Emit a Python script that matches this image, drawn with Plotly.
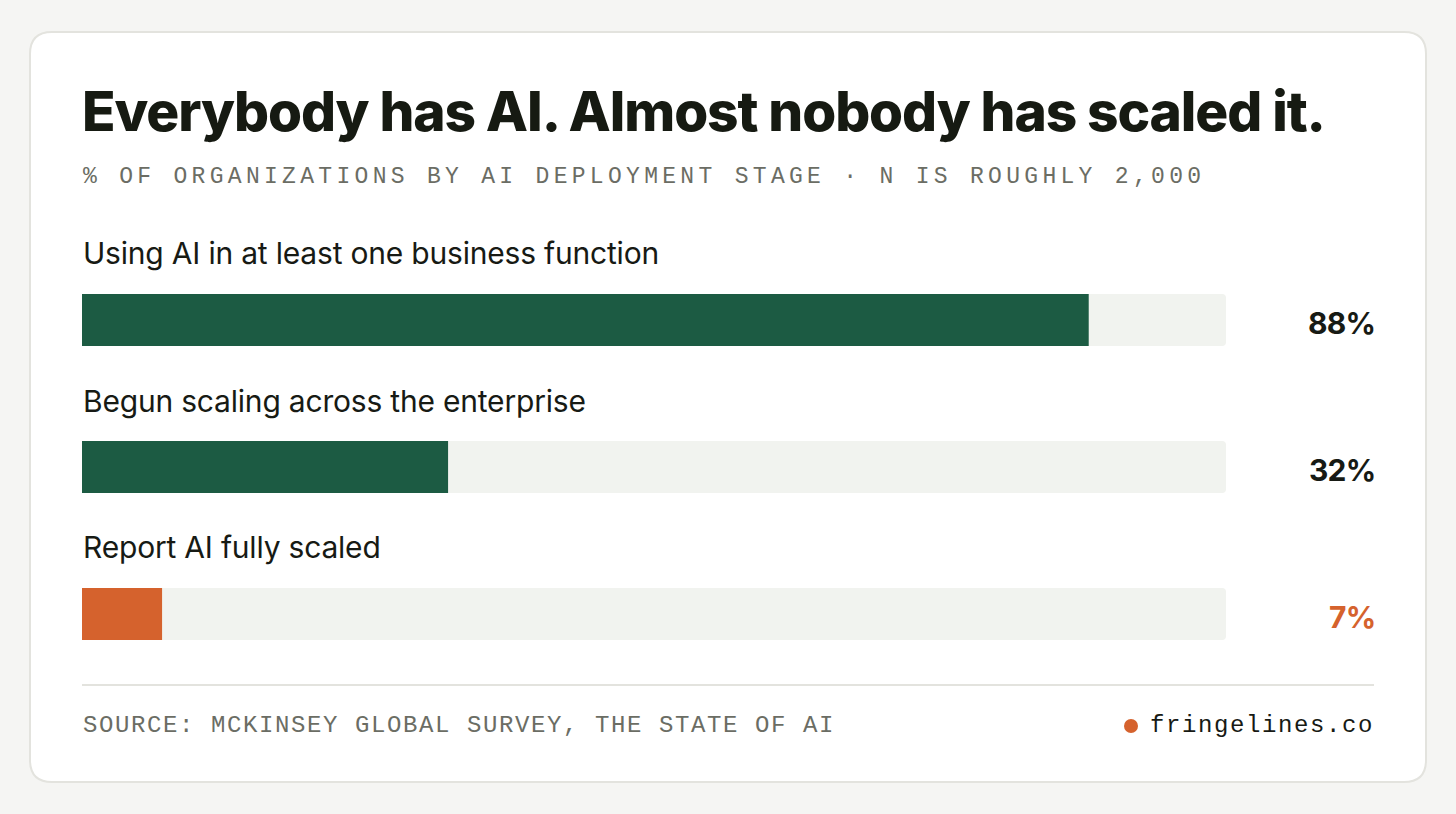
import plotly.graph_objects as go

# data
stages = ["Using AI in at least one business function",
          "Begun scaling across the enterprise",
          "Report AI fully scaled"]
shares = [88, 32, 7]
share_labels = ["88%", "32%", "7%"]
bar_colors = ["#1c5b43", "#1c5b43", "#d5622d"]
label_colors = ["#171a14", "#171a14", "#d5622d"]

title = "Everybody has AI. Almost nobody has scaled it."
subtitle = "% OF ORGANIZATIONS BY AI DEPLOYMENT STAGE · N IS ROUGHLY 2,000"
source = "SOURCE: MCKINSEY GLOBAL SURVEY, THE STATE OF AI"
brand = "fringelines.co"

W, H = 1456, 814


def px(x):
    return x / W


def py(y):
    return 1 - y / H


SANS = "Inter, 'Noto Sans', sans-serif"
MONO = "'Liberation Mono', 'DejaVu Sans Mono', monospace"

fig = go.Figure()

# grey track behind each bar
fig.add_trace(go.Bar(
    y=stages, x=[100] * len(stages), orientation="h",
    marker=dict(color="#f1f3ef", line=dict(width=0)),
    width=0.354, hoverinfo="skip", showlegend=False,
))
fig.add_trace(go.Bar(
    y=stages, x=shares, orientation="h",
    marker=dict(color=bar_colors, line=dict(width=0)),
    width=0.354, showlegend=False,
))

fig.update_layout(
    width=W, height=H,
    margin=dict(l=0, r=0, t=0, b=0),
    paper_bgcolor="#f5f5f3",
    plot_bgcolor="rgba(0,0,0,0)",
    barmode="overlay",
    barcornerradius=4,
    xaxis=dict(domain=[px(82), px(1226)], range=[0, 100], visible=False, fixedrange=True),
    yaxis=dict(domain=[py(687.5), py(246.5)], autorange="reversed", visible=False,
               categoryorder="array", categoryarray=stages, fixedrange=True),
)

# card with rounded corners (pixel units -> paper)
x0, y0, x1, y1, r = 30, 32, 1426, 782, 22
pts = [("M", x0 + r, y0), ("L", x1 - r, y0), ("Q", x1, y0, x1, y0 + r),
       ("L", x1, y1 - r), ("Q", x1, y1, x1 - r, y1), ("L", x0 + r, y1),
       ("Q", x0, y1, x0, y1 - r), ("L", x0, y0 + r), ("Q", x0, y0, x0 + r, y0)]
path = ""
for p in pts:
    cmd, coords = p[0], p[1:]
    pairs = [f"{px(coords[i]):.5f},{py(coords[i + 1]):.5f}" for i in range(0, len(coords), 2)]
    path += f"{cmd} {' '.join(pairs)} "
path += "Z"
fig.add_shape(type="path", path=path, xref="paper", yref="paper", layer="below",
              fillcolor="#ffffff", line=dict(color="#e3e3de", width=2))
# separator
fig.add_shape(type="line", xref="paper", yref="paper", x0=px(82), x1=px(1374),
              y0=py(685), y1=py(685), line=dict(color="#e3e3de", width=2))
# brand dot
fig.add_shape(type="circle", xref="paper", yref="paper", x0=px(1124), x1=px(1138),
              y0=py(733), y1=py(719), fillcolor="#d5622d", line=dict(width=0))

# title and subtitle
fig.add_annotation(x=px(80), y=py(111), xref="paper", yref="paper",
                   xanchor="left", yanchor="middle", showarrow=False,
                   text=f"<span style='letter-spacing:-1.1px'>{title}</span>",
                   font=dict(family=SANS, size=55, color="#161a12", weight=800))
fig.add_annotation(x=px(81), y=py(177), xref="paper", yref="paper",
                   xanchor="left", yanchor="middle", showarrow=False,
                   text=f"<span style='letter-spacing:4.3px'>{subtitle}</span>",
                   font=dict(family=MONO, size=23, color="#6b6d64"))

# stage labels and values
label_y = [253, 401, 547]
for stage, ly, lab, col in zip(stages, label_y, share_labels, label_colors):
    fig.add_annotation(x=px(81), y=py(ly), xref="paper", yref="paper",
                       xanchor="left", yanchor="middle", showarrow=False,
                       text=f"<span style='letter-spacing:-0.2px'>{stage}</span>",
                       font=dict(family=SANS, size=30, color="#171a14"))
    fig.add_annotation(x=px(1377), y=stage, xref="paper", yref="y",
                       xanchor="right", yanchor="middle", showarrow=False, yshift=-3,
                       text=f"<span style='letter-spacing:-0.8px'>{lab}</span>",
                       font=dict(family=SANS, size=30, color=col, weight=700))

# footer
fig.add_annotation(x=px(81), y=py(725), xref="paper", yref="paper",
                   xanchor="left", yanchor="middle", showarrow=False,
                   text=f"<span style='letter-spacing:1.6px'>{source}</span>",
                   font=dict(family=MONO, size=24, color="#6b6d64"))
fig.add_annotation(x=px(1376), y=py(725), xref="paper", yref="paper",
                   xanchor="right", yanchor="middle", showarrow=False,
                   text=f"<span style='letter-spacing:1.6px'>{brand}</span>",
                   font=dict(family=MONO, size=24, color="#171a14"))

fig.write_html(
    "out.html",
    config={"displayModeBar": False},
    post_script="document.body.style.margin='0';document.body.style.background='#f5f5f3';",
)
